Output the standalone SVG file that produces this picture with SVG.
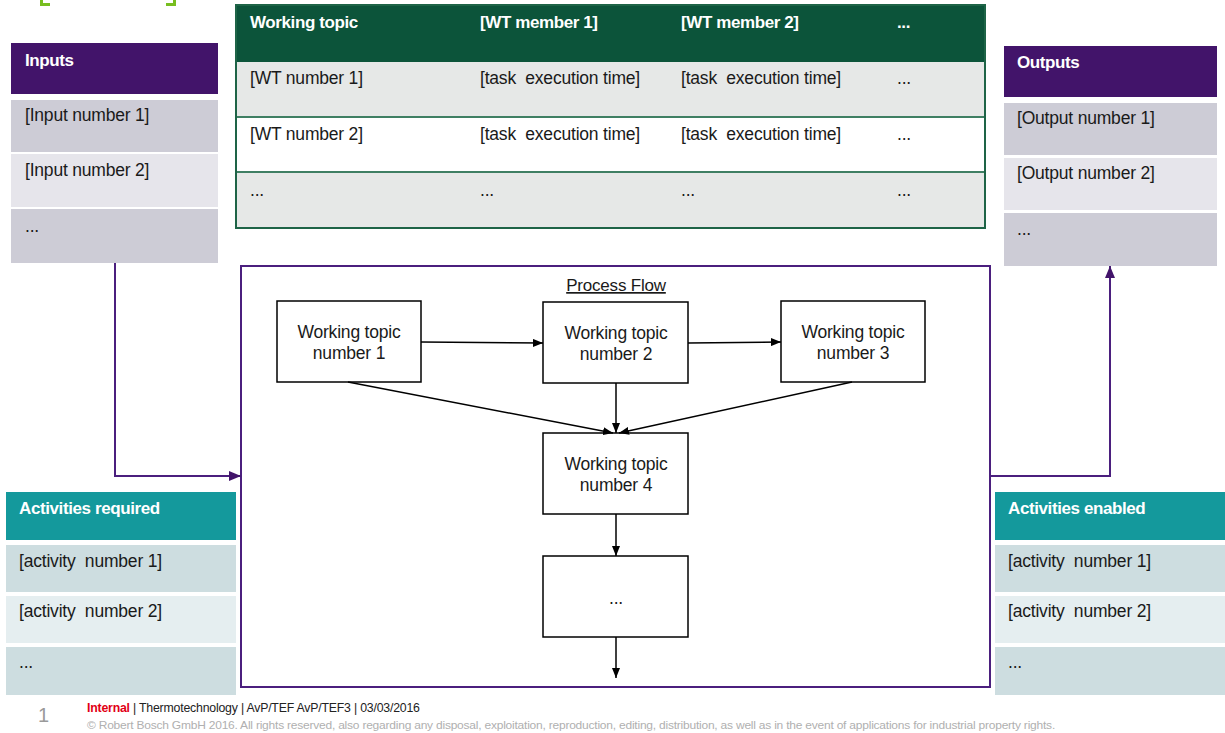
<svg xmlns="http://www.w3.org/2000/svg" width="1225" height="733" viewBox="0 0 1225 733">
<style>
text{font-family:"Liberation Sans",Arial,sans-serif;letter-spacing:-0.2px;white-space:pre}
.t{font-size:17.5px;fill:#1a1a1a}
.h{font-size:17px;font-weight:bold;fill:#fff;letter-spacing:-0.4px}
.c{text-anchor:middle}
.box{fill:#fff;stroke:#000;stroke-width:1.5}
.pu{fill:#42146A}
.r1{fill:#CDCCD6}.r2{fill:#E6E5EB}
.teal{fill:#14999C}
.a1{fill:#CDDDE0}.a2{fill:#E5EEF0}
.blk{stroke:#000;stroke-width:1.5;fill:none}
.pl{stroke:#4B1F7E;stroke-width:2;fill:none}
</style>
<defs>
<marker id="ab" markerWidth="10" markerHeight="8" refX="10" refY="4" orient="auto" markerUnits="userSpaceOnUse"><path d="M0,0 L10,4 L0,8 Z" fill="#000"/></marker>
<marker id="ap" markerWidth="12" markerHeight="10" refX="12" refY="5" orient="auto" markerUnits="userSpaceOnUse"><path d="M0,0 L12,5 L0,10 Z" fill="#42146A"/></marker>
</defs>
<rect width="1225" height="733" fill="#fff"/>
<g id="bracket" fill="#78BE20">
<rect x="40" y="0" width="3" height="6"/><rect x="40" y="3" width="10" height="3"/>
<rect x="173" y="0" width="3" height="6"/><rect x="166" y="3" width="10" height="3"/>
</g>
<g id="inputs">
<rect class="pu" x="11" y="43" width="207" height="51"/>
<rect class="r1" x="11" y="100" width="207" height="52"/>
<rect class="r2" x="11" y="154" width="207" height="53"/>
<rect class="r1" x="11" y="209" width="207" height="54"/>
<text class="h" x="25" y="66">Inputs</text>
<text class="t" x="25" y="121">[Input number 1]</text>
<text class="t" x="25" y="176">[Input number 2]</text>
<text class="t" x="25" y="232">...</text>
</g>
<g id="table">
<rect x="236" y="5" width="749" height="57" fill="#0C543A"/>
<rect x="236" y="62" width="749" height="55" fill="#E6E8E7"/>
<rect x="236" y="117" width="749" height="55" fill="#fff"/>
<rect x="236" y="172" width="749" height="56" fill="#E6E8E7"/>
<g stroke="#3F7F63" stroke-width="2">
<line x1="236" y1="117" x2="985" y2="117"/>
<line x1="236" y1="172" x2="985" y2="172"/>
</g>
<rect x="236" y="5" width="749" height="223" fill="none" stroke="#1E6447" stroke-width="2"/>
<text class="h" x="250" y="28">Working topic</text>
<text class="h" x="480" y="28">[WT member 1]</text>
<text class="h" x="681" y="28">[WT member 2]</text>
<text class="h" x="897" y="28">...</text>
<text class="t" x="250" y="84">[WT number 1]</text>
<text class="t" x="480" y="84">[task  execution time]</text>
<text class="t" x="681" y="84">[task  execution time]</text>
<text class="t" x="897" y="84">...</text>
<text class="t" x="250" y="140">[WT number 2]</text>
<text class="t" x="480" y="140">[task  execution time]</text>
<text class="t" x="681" y="140">[task  execution time]</text>
<text class="t" x="897" y="140">...</text>
<text class="t" x="250" y="196">...</text>
<text class="t" x="480" y="196">...</text>
<text class="t" x="681" y="196">...</text>
<text class="t" x="897" y="196">...</text>
</g>
<g id="outputs">
<rect class="pu" x="1004" y="46" width="213" height="51"/>
<rect class="r1" x="1004" y="103" width="213" height="52"/>
<rect class="r2" x="1004" y="158" width="213" height="52"/>
<rect class="r1" x="1004" y="213" width="213" height="53"/>
<text class="h" x="1017" y="68">Outputs</text>
<text class="t" x="1017" y="124">[Output number 1]</text>
<text class="t" x="1017" y="179">[Output number 2]</text>
<text class="t" x="1017" y="235">...</text>
</g>
<g id="activities-required">
<rect class="teal" x="6" y="492" width="230" height="48"/>
<rect class="a1" x="6" y="545" width="230" height="47"/>
<rect class="a2" x="6" y="596" width="230" height="47"/>
<rect class="a1" x="6" y="647" width="230" height="48"/>
<text class="h" x="19" y="514">Activities required</text>
<text class="t" x="19" y="567">[activity  number 1]</text>
<text class="t" x="19" y="617">[activity  number 2]</text>
<text class="t" x="19" y="668">...</text>
</g>
<g id="activities-enabled">
<rect class="teal" x="995" y="492" width="230" height="48"/>
<rect class="a1" x="995" y="545" width="230" height="47"/>
<rect class="a2" x="995" y="596" width="230" height="47"/>
<rect class="a1" x="995" y="647" width="230" height="48"/>
<text class="h" x="1008" y="514">Activities enabled</text>
<text class="t" x="1008" y="567">[activity  number 1]</text>
<text class="t" x="1008" y="617">[activity  number 2]</text>
<text class="t" x="1008" y="668">...</text>
</g>
<g id="process-flow">
<rect x="241" y="266" width="749" height="421" fill="none" stroke="#4B1F7E" stroke-width="2"/>
<text class="c" x="616" y="291" style="font-size:17px;fill:#1a1a1a;text-decoration:underline">Process Flow</text>
</g>
<g id="wt1">
<rect class="box" x="277" y="301" width="144" height="81"/>
<text class="t c" x="349" y="338">Working topic</text>
<text class="t c" x="349" y="359">number 1</text>
</g>
<g id="wt2">
<rect class="box" x="543" y="302" width="145" height="81"/>
<text class="t c" x="616" y="339">Working topic</text>
<text class="t c" x="616" y="360">number 2</text>
</g>
<g id="wt3">
<rect class="box" x="781" y="301" width="144" height="81"/>
<text class="t c" x="853" y="338">Working topic</text>
<text class="t c" x="853" y="359">number 3</text>
</g>
<g id="wt4">
<rect class="box" x="543" y="433" width="145" height="81"/>
<text class="t c" x="616" y="470">Working topic</text>
<text class="t c" x="616" y="491">number 4</text>
</g>
<g id="wt-more">
<rect class="box" x="543" y="556" width="145" height="81"/>
<text class="t c" x="616" y="604">...</text>
</g>
<g id="connectors">
<line class="blk" x1="421" y1="342" x2="543" y2="343" marker-end="url(#ab)"/>
<line class="blk" x1="688" y1="343" x2="781" y2="342" marker-end="url(#ab)"/>
<line class="blk" x1="616" y1="383" x2="616" y2="433" marker-end="url(#ab)"/>
<line class="blk" x1="348" y1="382" x2="613" y2="433" marker-end="url(#ab)"/>
<line class="blk" x1="852" y1="382" x2="619" y2="433" marker-end="url(#ab)"/>
<line class="blk" x1="616" y1="514" x2="616" y2="556" marker-end="url(#ab)"/>
<line class="blk" x1="616" y1="637" x2="616" y2="678" marker-end="url(#ab)"/>
<path class="pl" d="M115,263 V476 H241" marker-end="url(#ap)"/>
<path class="pl" d="M990,476 H1110 V266" marker-end="url(#ap)"/>
</g>
<g id="footer">
<text x="38" y="722" style="font-size:20px;fill:#9a9a9a;letter-spacing:0">1</text>
<text x="87" y="712" style="font-size:12.3px;fill:#222"><tspan style="fill:#E20015;font-weight:bold">Internal</tspan> | Thermotechnology | AvP/TEF AvP/TEF3 | 03/03/2016</text>
<text x="87" y="729" textLength="968" lengthAdjust="spacingAndGlyphs" style="font-size:11px;fill:#b0b0b0">© Robert Bosch GmbH 2016. All rights reserved, also regarding any disposal, exploitation, reproduction, editing, distribution, as well as in the event of applications for industrial property rights.</text>
</g>
</svg>
